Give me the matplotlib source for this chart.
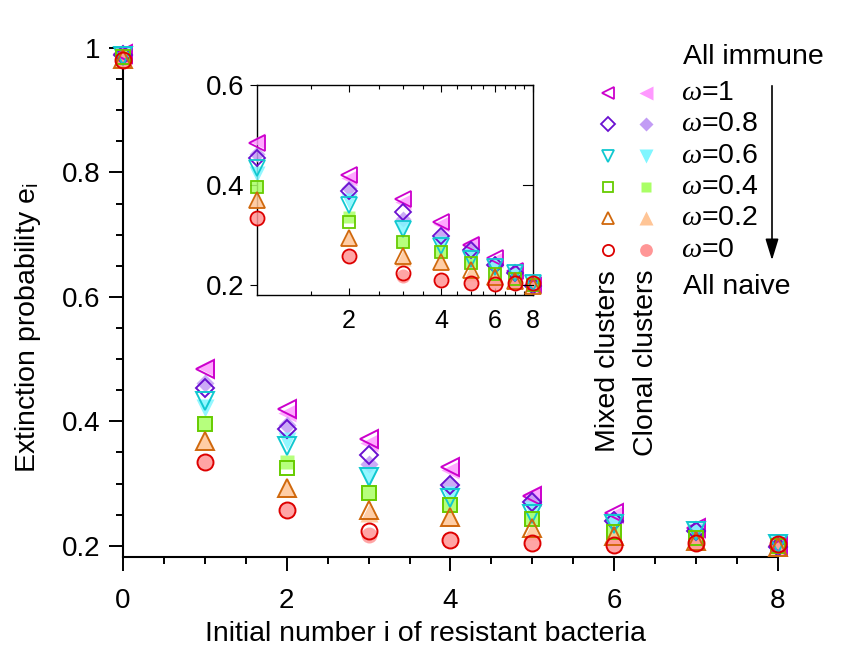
import matplotlib
matplotlib.use("Agg")
import matplotlib.pyplot as plt
import numpy as np
from matplotlib.ticker import MultipleLocator, FixedLocator, NullFormatter, FixedFormatter

plt.rcParams['font.family'] = ['Liberation Sans', 'DejaVu Sans']
plt.rcParams['mathtext.fontset'] = 'custom'
plt.rcParams['mathtext.it'] = 'Liberation Serif:italic'
plt.rcParams['mathtext.rm'] = 'Liberation Sans'

# ---- data ----
i_vals = [0, 1, 2, 3, 4, 5, 6, 7, 8]
omega_labels = ["1", "0.8", "0.6", "0.4", "0.2", "0"]
markers = ["<", "D", "v", "s", "^", "o"]
edge_colors = ["#cc00cc", "#6a10d0", "#10c8d0", "#66cc00", "#d0680c", "#dd0000"]
fill_colors = ["#ff99ff", "#c29cf5", "#80f6ff", "#aaff66", "#ffc596", "#ff9696"]

mixed_w1  = [0.990, 0.484, 0.420, 0.371, 0.326, 0.280, 0.253, 0.228, 0.200]
mixed_w08 = [0.988, 0.454, 0.388, 0.346, 0.297, 0.270, 0.240, 0.224, 0.198]
mixed_w06 = [0.987, 0.433, 0.360, 0.311, 0.277, 0.251, 0.235, 0.223, 0.203]
mixed_w04 = [0.985, 0.396, 0.325, 0.285, 0.265, 0.243, 0.222, 0.212, 0.200]
mixed_w02 = [0.983, 0.369, 0.293, 0.258, 0.246, 0.229, 0.216, 0.208, 0.198]
mixed_w0  = [0.980, 0.334, 0.257, 0.223, 0.210, 0.204, 0.201, 0.204, 0.203]

clonal_w1  = [0.990, 0.488, 0.414, 0.365, 0.322, 0.283, 0.250, 0.226, 0.201]
clonal_w08 = [0.988, 0.462, 0.394, 0.332, 0.297, 0.274, 0.242, 0.223, 0.199]
clonal_w06 = [0.987, 0.422, 0.368, 0.311, 0.282, 0.258, 0.238, 0.222, 0.203]
clonal_w04 = [0.985, 0.397, 0.335, 0.285, 0.267, 0.243, 0.223, 0.211, 0.201]
clonal_w02 = [0.983, 0.369, 0.293, 0.253, 0.246, 0.223, 0.215, 0.208, 0.199]
clonal_w0  = [0.980, 0.334, 0.257, 0.218, 0.210, 0.204, 0.201, 0.204, 0.203]

mixed = [mixed_w1, mixed_w08, mixed_w06, mixed_w04, mixed_w02, mixed_w0]
clonal = [clonal_w1, clonal_w08, clonal_w06, clonal_w04, clonal_w02, clonal_w0]

W, H = 861, 657
fig = plt.figure(figsize=(W / 100, H / 100), dpi=100)

def fx(px):
    return px / W

def fy(py):
    return 1 - py / H

msz = {"<": 12.5, "D": 9.5, "v": 12.5, "s": 9.5, "^": 12.5, "o": 11.5}
FS = 20.5

# ---- main axes ----
ax = fig.add_axes([fx(123), fy(557), fx(778) - fx(123), fy(48) - fy(557)])
for k in range(6):
    ax.plot(i_vals, clonal[k], linestyle="none", marker=markers[k], ms=msz[markers[k]],
            mfc=fill_colors[k], mec="none", alpha=0.85, clip_on=False, zorder=3)
for k in range(6):
    ax.plot(i_vals, mixed[k], linestyle="none", marker=markers[k], ms=msz[markers[k]],
            mfc="none", mec=edge_colors[k], mew=1.4, clip_on=False, zorder=4)
ax.set_xlim(0, 8)
ax.set_ylim(0.182, 1.0)
ax.spines["top"].set_visible(False)
ax.spines["right"].set_visible(False)
for s in ["left", "bottom"]:
    ax.spines[s].set_linewidth(1.5)
ax.xaxis.set_major_locator(FixedLocator([0, 2, 4, 6, 8]))
ax.xaxis.set_minor_locator(MultipleLocator(0.5))
ax.yaxis.set_major_locator(FixedLocator([0.2, 0.4, 0.6, 0.8, 1.0]))
ax.yaxis.set_minor_locator(MultipleLocator(0.05))
ax.set_yticklabels(["0.2", "0.4", "0.6", "0.8", "1"])
ax.tick_params(which="major", direction="out", length=10, width=1.4, labelsize=20, pad=6)
ax.tick_params(which="minor", direction="out", length=5, width=1.4)
ax.tick_params(axis="x", which="major", pad=12)

# ---- inset ----
axi = fig.add_axes([fx(257), fy(295), fx(533) - fx(257), fy(85) - fy(295)])
for k in range(6):
    axi.plot(i_vals[1:], clonal[k][1:], linestyle="none", marker=markers[k], ms=msz[markers[k]] * 0.88,
             mfc=fill_colors[k], mec="none", alpha=0.85, clip_on=False, zorder=3)
for k in range(6):
    axi.plot(i_vals[1:], mixed[k][1:], linestyle="none", marker=markers[k], ms=msz[markers[k]] * 0.88,
             mfc="none", mec=edge_colors[k], mew=1.3, clip_on=False, zorder=4)
axi.set_xscale("log")
axi.set_xlim(1, 8)
axi.set_ylim(0.18, 0.6)
axi.xaxis.set_major_locator(FixedLocator([2, 4, 6, 8]))
axi.xaxis.set_major_formatter(FixedFormatter(["2", "4", "6", "8"]))
axi.xaxis.set_minor_locator(FixedLocator(list(np.arange(1.5, 8.0, 0.5))))
axi.xaxis.set_minor_formatter(NullFormatter())
axi.yaxis.set_major_locator(FixedLocator([0.2, 0.4, 0.6]))
axi.set_yticklabels(["0.2", "0.4", "0.6"])
axi.yaxis.set_minor_locator(FixedLocator([]))
for s in axi.spines.values():
    s.set_linewidth(1.0)
axi.tick_params(axis="x", which="both", direction="in", top=True, bottom=True, width=0.8)
axi.tick_params(axis="x", which="major", length=5, labelsize=18, pad=10)
axi.tick_params(axis="x", which="minor", length=3)
axi.tick_params(axis="y", which="major", direction="out", left=True, right=False, length=5,
                width=0.8, labelsize=20, pad=4)
for yv in [0.2, 0.4, 0.6]:
    axi.plot([0.965, 1.0], [yv, yv], transform=axi.get_yaxis_transform(), color="black",
             lw=0.8, clip_on=False, zorder=5)

# ---- legend / annotations overlay ----
ov = fig.add_axes([0, 0, 1, 1])
ov.set_xlim(0, W)
ov.set_ylim(H, 0)
ov.axis("off")

ov.text(425, 634, "Initial number i of resistant bacteria", fontsize=FS, ha="center", va="center")
ov.text(28, 328, "Extinction probability e$_{\\mathrm{i}}$", fontsize=FS, rotation=90,
        ha="center", va="center")

leg_y = [93, 124, 156, 187, 218, 250]
for k in range(6):
    ov.plot([608], [leg_y[k]], linestyle="none", marker=markers[k], ms=msz[markers[k]] * 0.7,
            mfc="none", mec=edge_colors[k], mew=1.3)
    ov.plot([646], [leg_y[k]], linestyle="none", marker=markers[k], ms=msz[markers[k]] * 0.8,
            mfc=fill_colors[k], mec="none")
    ov.text(681, leg_y[k], r"$\omega$=" + omega_labels[k], fontsize=FS, va="center", ha="left")

ov.text(683, 57, "All immune", fontsize=FS, va="center", ha="left")
ov.text(683, 287, "All naive", fontsize=FS, va="center", ha="left")
ov.annotate("", xy=(772, 263), xytext=(772, 83),
            arrowprops=dict(arrowstyle="-|>,head_length=1.3,head_width=0.4", color="black", lw=1.2))
ov.text(608, 452, "Mixed clusters", fontsize=FS, rotation=90, ha="center", va="bottom")
ov.text(646, 456, "Clonal clusters", fontsize=FS, rotation=90, ha="center", va="bottom")

fig.savefig("out.png", dpi=100)
